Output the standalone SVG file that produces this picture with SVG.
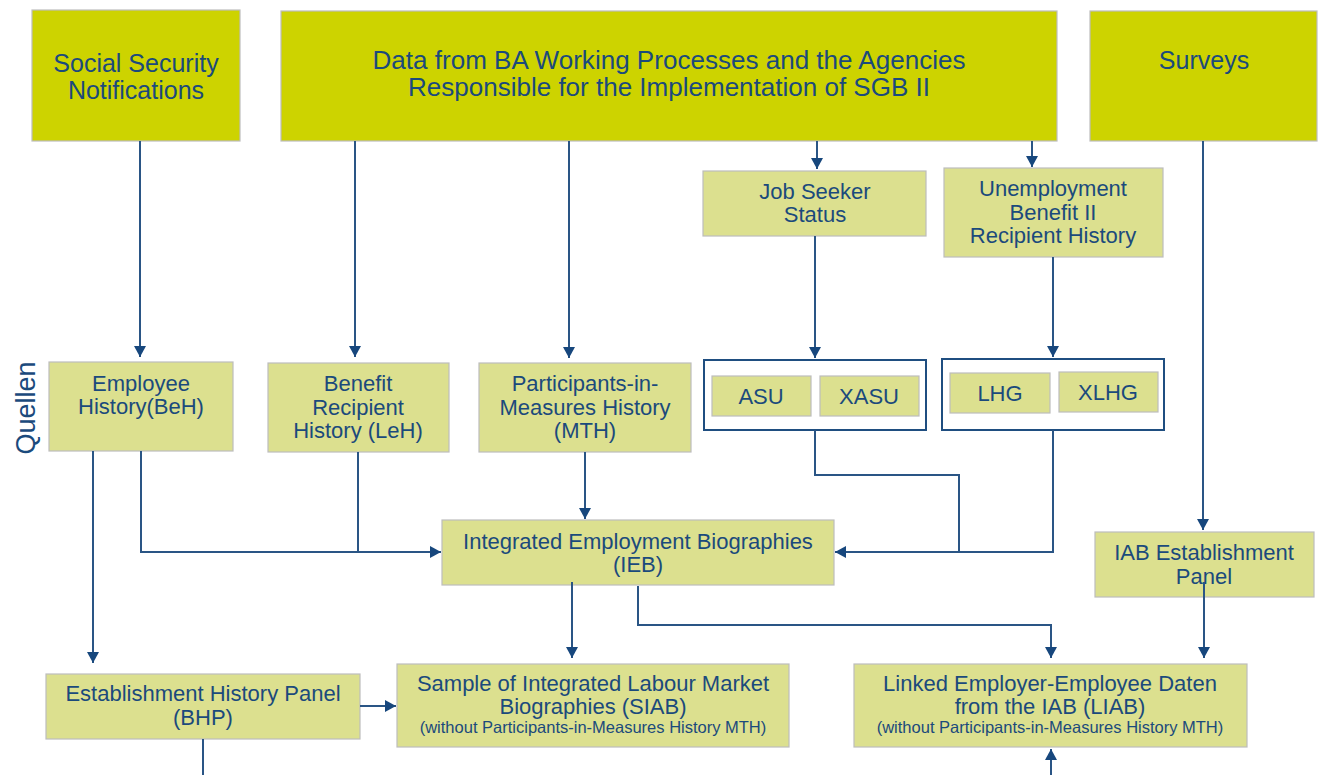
<svg xmlns="http://www.w3.org/2000/svg" width="1323" height="775" viewBox="0 0 1323 775">
<defs>
<marker id="arr" markerUnits="userSpaceOnUse" markerWidth="12" markerHeight="12" refX="11" refY="6" orient="auto">
<path d="M0,0 L11,6 L0,12 z" fill="#17477D"/>
</marker>
<style>
.top{fill:#CDD300;stroke:#BDBDBD;stroke-width:1.2}
.box{fill:#DCE08F;stroke:#BDBDBD;stroke-width:1.2}
.grp{fill:#FFFFFF;stroke:#1F4E80;stroke-width:2}
.t{font-family:"Liberation Sans",Arial,sans-serif;fill:#1B4A7C;text-anchor:middle}
.tt{font-size:25px}
.tm{font-size:22px}
.ts{font-size:16.5px}
.c{fill:none;stroke:#2A5585;stroke-width:2}
.a{marker-end:url(#arr)}
</style>
</defs>
<rect width="1323" height="775" fill="#FFFFFF"/>

<g id="social-security">
<rect class="top" x="32" y="10" width="208" height="131"/>
<text class="t tt" x="136" y="72">Social Security</text>
<text class="t tt" x="136" y="99">Notifications</text>
</g>
<g id="ba-data">
<rect class="top" x="281" y="11" width="776" height="130"/>
<text class="t tt" x="669" y="69" textLength="593" lengthAdjust="spacingAndGlyphs">Data from BA Working Processes and the Agencies</text>
<text class="t tt" x="669" y="96" textLength="522" lengthAdjust="spacingAndGlyphs">Responsible for the Implementation of SGB II</text>
</g>
<g id="surveys">
<rect class="top" x="1090" y="11" width="227" height="130"/>
<text class="t tt" x="1204" y="69">Surveys</text>
</g>

<g id="job-seeker">
<rect class="box" x="703" y="171" width="223" height="65"/>
<text class="t tm" x="815" y="199">Job Seeker</text>
<text class="t tm" x="815" y="222">Status</text>
</g>
<g id="ub2">
<rect class="box" x="944" y="168" width="219" height="89"/>
<text class="t tm" x="1053" y="196">Unemployment</text>
<text class="t tm" x="1053" y="220">Benefit II</text>
<text class="t tm" x="1053" y="243">Recipient History</text>
</g>

<g id="quellen">
<text class="t" style="font-size:27px" transform="translate(35,408) rotate(-90)">Quellen</text>
</g>

<g id="beh">
<rect class="box" x="49" y="362" width="184" height="89"/>
<text class="t tm" x="141" y="391">Employee</text>
<text class="t tm" x="141" y="414">History(BeH)</text>
</g>
<g id="leh">
<rect class="box" x="268" y="363" width="181" height="89"/>
<text class="t tm" x="358" y="391">Benefit</text>
<text class="t tm" x="358" y="415">Recipient</text>
<text class="t tm" x="358" y="438">History (LeH)</text>
</g>
<g id="mth">
<rect class="box" x="479" y="363" width="212" height="89"/>
<text class="t tm" x="585" y="391">Participants-in-</text>
<text class="t tm" x="585" y="415">Measures History</text>
<text class="t tm" x="585" y="438">(MTH)</text>
</g>

<g id="asu-group">
<rect class="grp" x="704" y="360" width="222" height="70"/>
<rect class="box" x="712" y="376" width="99" height="40"/>
<text class="t tm" x="761" y="404">ASU</text>
<rect class="box" x="820" y="376" width="99" height="40"/>
<text class="t tm" x="869" y="404">XASU</text>
</g>
<g id="lhg-group">
<rect class="grp" x="942" y="359" width="222" height="71"/>
<rect class="box" x="950" y="373" width="100" height="40"/>
<text class="t tm" x="1000" y="401">LHG</text>
<rect class="box" x="1059" y="372" width="99" height="40"/>
<text class="t tm" x="1108" y="400">XLHG</text>
</g>

<g id="ieb">
<rect class="box" x="442" y="520" width="392" height="65"/>
<text class="t tm" x="638" y="549">Integrated Employment Biographies</text>
<text class="t tm" x="638" y="572">(IEB)</text>
</g>
<g id="iab-panel">
<rect class="box" x="1095" y="532" width="219" height="65"/>
<text class="t tm" x="1204" y="560">IAB Establishment</text>
<text class="t tm" x="1204" y="584">Panel</text>
</g>

<g id="bhp">
<rect class="box" x="46" y="674" width="314" height="65"/>
<text class="t tm" x="203" y="701">Establishment History Panel</text>
<text class="t tm" x="203" y="725">(BHP)</text>
</g>
<g id="siab">
<rect class="box" x="397" y="664" width="392" height="83"/>
<text class="t tm" x="593" y="691">Sample of Integrated Labour Market</text>
<text class="t tm" x="593" y="714">Biographies (SIAB)</text>
<text class="t ts" x="593" y="733">(without Participants-in-Measures History MTH)</text>
</g>
<g id="liab">
<rect class="box" x="854" y="664" width="393" height="83"/>
<text class="t tm" x="1050" y="691">Linked Employer-Employee Daten</text>
<text class="t tm" x="1050" y="714">from the IAB (LIAB)</text>
<text class="t ts" x="1050" y="733">(without Participants-in-Measures History MTH)</text>
</g>

<g id="connectors">
<path class="c a" d="M140,141 V357"/>
<path class="c a" d="M355,141 V357"/>
<path class="c a" d="M569,141 V358"/>
<path class="c a" d="M817,141 V169"/>
<path class="c a" d="M1032,141 V167"/>
<path class="c a" d="M1203,141 V530"/>
<path class="c a" d="M815,236 V358"/>
<path class="c a" d="M1053,257 V357"/>
<path class="c a" d="M93,451 V663"/>
<path class="c a" d="M141,451 V552 H441"/>
<path class="c" d="M358,452 V552"/>
<path class="c a" d="M585,452 V519"/>
<path class="c" d="M815,430 V475 H959 V552"/>
<path class="c a" d="M1053,430 V552 H835"/>
<path class="c a" d="M572,582 V658"/>
<path class="c a" d="M638,586 V625 H1051 V658"/>
<path class="c a" d="M1204,582 V658"/>
<path class="c a" d="M360,706 H396"/>
<path class="c" d="M203,739 V775"/>
<path class="c a" d="M1051,775 V749"/>
</g>
</svg>
